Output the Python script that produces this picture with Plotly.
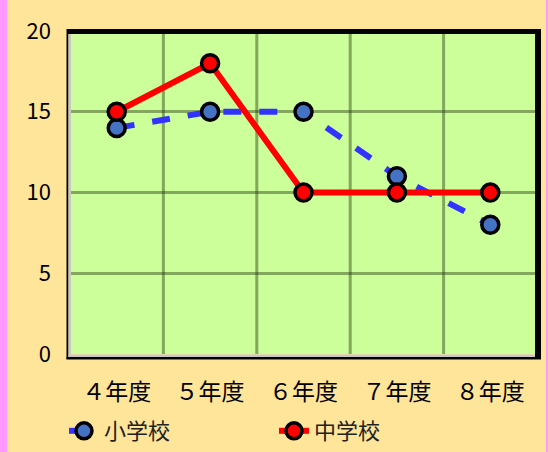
import plotly.graph_objects as go

categories = ["４年度", "５年度", "６年度", "７年度", "８年度"]
elementary = [14, 15, 15, 11, 8]
junior = [15, 18, 10, 10, 10]
series_names = ["小学校", "中学校"]

W, H = 548, 452
L, R, T, B = 70, 11, 31, 98
pw, ph = W - L - R, H - T - B

def px(x):
    return (x - L) / pw

def py(y):
    return (H - B - y) / ph

fig = go.Figure()
fig.add_trace(go.Scatter(
    x=categories, y=elementary, name=series_names[0], mode="lines+markers",
    line=dict(color="#3333ff", width=6, dash="dash"),
    marker=dict(size=17, color="#4472c4", line=dict(color="black", width=3.5)),
))
fig.add_trace(go.Scatter(
    x=categories, y=junior, name=series_names[1], mode="lines+markers",
    line=dict(color="#ff0000", width=6),
    marker=dict(size=17, color="#ff0000", line=dict(color="black", width=3.5)),
))

grid = "rgba(40,60,20,0.45)"
shapes = [
    dict(type="rect", xref="paper", yref="paper", x0=px(0), x1=px(7.5), y0=py(H), y1=py(0),
         fillcolor="#ff99ff", line=dict(width=0), layer="below"),
    dict(type="rect", xref="paper", yref="paper", x0=px(546), x1=px(W), y0=py(H), y1=py(0),
         fillcolor="#ff99ff", line=dict(width=0), layer="below"),
    dict(type="rect", xref="paper", yref="paper", x0=px(67), x1=px(541), y0=py(34), y1=py(29),
         fillcolor="black", line=dict(width=0)),
    dict(type="rect", xref="paper", yref="paper", x0=px(535), x1=px(541), y0=py(359), y1=py(29),
         fillcolor="black", line=dict(width=0)),
    dict(type="rect", xref="paper", yref="paper", x0=px(66.5), x1=px(68.5), y0=py(359), y1=py(29),
         fillcolor="black", line=dict(width=0)),
    dict(type="rect", xref="paper", yref="paper", x0=px(68.5), x1=px(71), y0=py(356.5), y1=py(34),
         fillcolor="#c8c8c8", line=dict(width=0)),
    dict(type="rect", xref="paper", yref="paper", x0=px(66.5), x1=px(541), y0=py(359.5), y1=py(357),
         fillcolor="black", line=dict(width=0)),
    dict(type="rect", xref="paper", yref="paper", x0=px(68.5), x1=px(535), y0=py(357), y1=py(354.5),
         fillcolor="#c8c8c8", line=dict(width=0)),
]
for i in range(1, len(categories)):
    shapes.append(dict(type="line", xref="x", yref="paper", x0=i - 0.5, x1=i - 0.5, y0=0, y1=1,
                       line=dict(color=grid, width=3), layer="below"))

fig.update_layout(
    width=W, height=H, autosize=False,
    margin=dict(l=L, r=R, t=T, b=B, autoexpand=False),
    paper_bgcolor="#ffe599",
    plot_bgcolor="#ccff99",
    font=dict(family="Noto Sans CJK JP, sans-serif", size=22, color="black"),
    showlegend=True,
    legend=dict(orientation="h", xref="container", yref="container",
                x=0.5, xanchor="center", y=-0.012, yanchor="bottom",
                entrywidth=165, entrywidthmode="pixels",
                font=dict(size=22, color="#222222"), bgcolor="rgba(0,0,0,0)"),
    shapes=shapes,
)
fig.update_xaxes(range=[-0.5, 4.5], showgrid=False, zeroline=False, showline=False,
                 ticks="", ticklabelstandoff=22, tickfont=dict(size=23), automargin=False)
fig.update_yaxes(range=[0, 20], dtick=5, showgrid=True, gridcolor=grid, gridwidth=3,
                 zeroline=False, showline=False, ticks="", ticklabelstandoff=18, tickfont=dict(size=22),
                 automargin=False)

fig.write_html("out.html", config={"displayModeBar": False},
               post_script="document.body.style.margin='0';")
